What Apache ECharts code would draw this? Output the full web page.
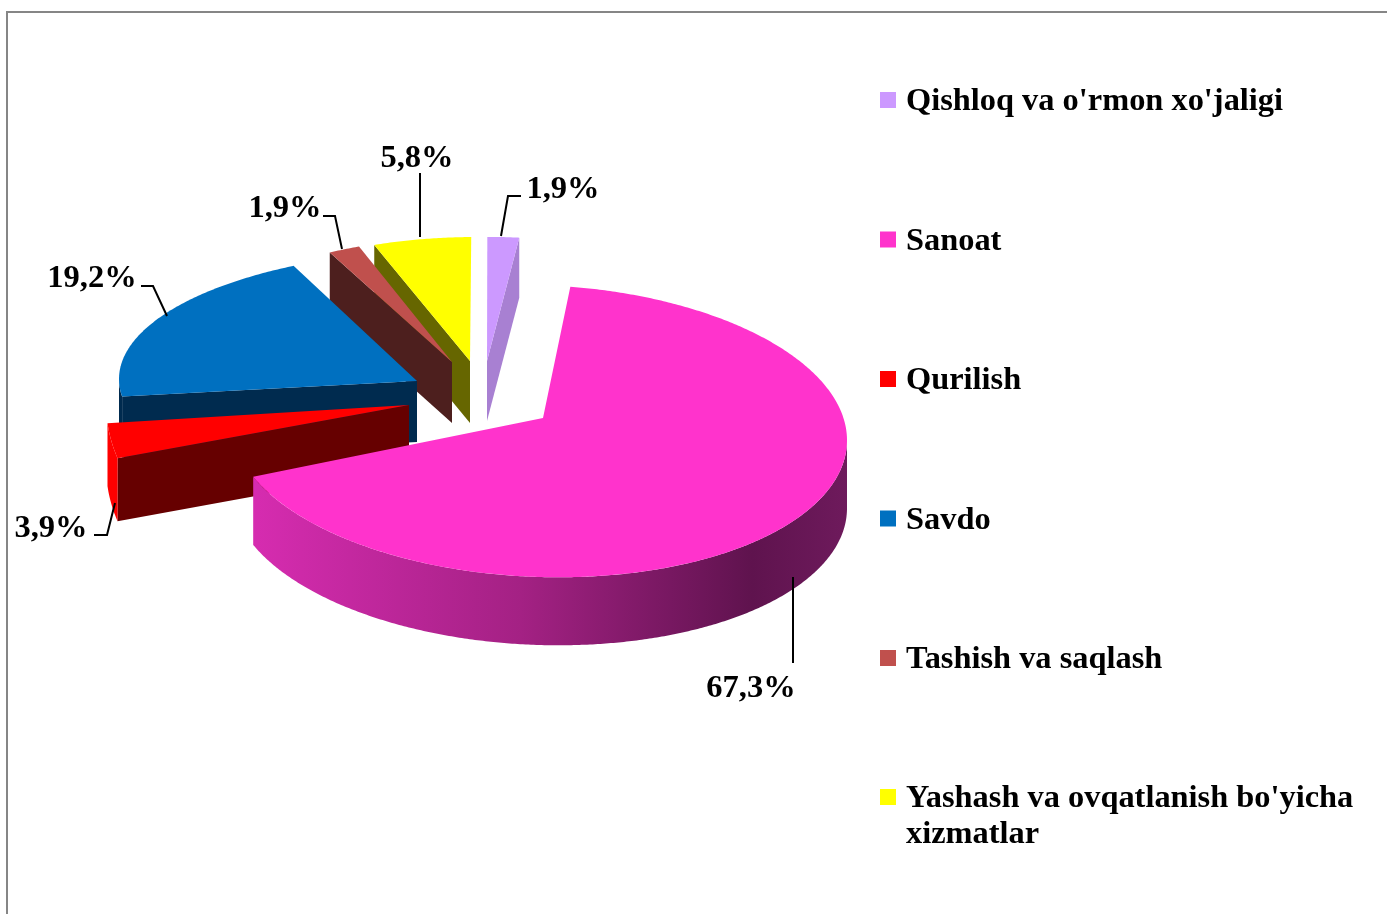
<!DOCTYPE html>
<html><head><meta charset="utf-8">
<style>html,body{margin:0;padding:0;background:#fff}#c{width:1387px;height:914px}</style>
<script src="https://cdn.jsdelivr.net/npm/echarts@6/dist/echarts.min.js"></script>
</head><body><div id="c"></div>
<script>
// ---- data ----
var categories = ["Qishloq va o'rmon xo'jaligi", "Sanoat", "Qurilish", "Savdo", "Tashish va saqlash", "Yashash va ovqatlanish bo'yicha\nxizmatlar"];
var shares = [1.9, 67.3, 3.9, 19.2, 1.9, 5.8];
// ---- styles ----
var topColors  = ['#CC99FF', '#FF33CC', '#FF0000', '#0070C0', '#C0504D', '#FFFF00'];
var wallColors = ['#A880D2', '#A02080', '#660000', '#002B4F', '#4D1F1E', '#666600'];
var rimColors  = ['#A880D2', null, '#FF0000', '#002B4F', '#4D1F1E', '#666600'];
var pinkWall = {type:'linear', x:0, y:0, x2:1, y2:0, colorStops:[
  {offset:0, color:'#D62CB0'}, {offset:0.45, color:'#A42184'}, {offset:0.84, color:'#5F134E'}, {offset:1, color:'#6E1A5C'}]};
// exploded-slice layout: apex, ellipse centre and radii, wall depth, shear
var layout = [
  {ax:487, ay:361, cx:492, cy:367, rx:268, ry:130, d:60},
  {ax:543, ay:418, cx:539, cy:431, rx:308, ry:146, d:68, sk:0.03},
  {ax:409, ay:405, cx:266, cy:403, rx:160, ry:148, d:63},
  {ax:417, ay:381, cx:455, cy:379, rx:336, ry:129, d:61},
  {ax:452, ay:362, cx:460, cy:356, rx:271, ry:118, d:61},
  {ax:470, ay:361, cx:476, cy:347, rx:273, ry:110, d:62}
];
// label centre and leader path
var labelPos = [[563,190],[751,689],[51,529],[92,279],[285,209],[417,159]];
var leaders = [
  [[501,236],[508,196],[521,196]],
  [[793,577],[793,663]],
  [[115,503],[107,535],[94,535]],
  [[167,316],[153,286],[141,286]],
  [[342,249],[335,216],[323,216]],
  [[420,237],[420,173]]
];
var startAngle = -1;
var drawOrder = [5, 4, 0, 3, 2, 1];
var total = shares.reduce(function(a,b){return a+b;}, 0);

function rimPoint(L, deg){
  var r = deg*Math.PI/180, dx = L.rx*Math.sin(r);
  return [L.cx+dx, L.cy-L.ry*Math.cos(r)+(L.sk||0)*dx];
}
function edgeVisible(L, deg, inner){
  var R = rimPoint(L,deg), P = rimPoint(L,inner), dx = R[0]-L.ax;
  if (Math.abs(dx) < 3) return false;
  return P[1] < L.ay + (R[1]-L.ay)/dx*(P[0]-L.ax);
}
function makeRender(idx){
  return function(params, api){
    var value = api.value(0), L = layout[idx], before = 0, i;
    for (i=0;i<idx;i++) before += shares[i];
    var a0 = startAngle + before/total*360, a1 = a0 + value/total*360;
    var step = 0.5, kids = [], pts = [[L.ax,L.ay]], t;
    for (t=a0; t<a1; t+=step) pts.push(rimPoint(L,t));
    pts.push(rimPoint(L,a1));
    // radial walls
    var guard = Math.min(3,(a1-a0)/2);
    [[a0,a0+guard],[a1,a1-guard]].forEach(function(e){
      if(edgeVisible(L,e[0],e[1])){
        var R = rimPoint(L,e[0]);
        kids.push({type:'polygon', shape:{points:[[L.ax,L.ay],R,[R[0],R[1]+L.d],[L.ax,L.ay+L.d]]},
          style:{fill:wallColors[idx]}});
      }
    });
    // outer wall (front half of the rim only)
    var w0 = Math.max(a0,90), w1 = Math.min(a1,270);
    if (w1 > w0){
      var up = [], down = [];
      for (t=w0; t<w1; t+=step) up.push(rimPoint(L,t));
      up.push(rimPoint(L,w1));
      up.forEach(function(p){ down.unshift([p[0],p[1]+L.d]); });
      kids.push({type:'polygon', shape:{points:up.concat(down)},
        style:{fill: rimColors[idx] || pinkWall}});
    }
    kids.push({type:'polygon', shape:{points:pts}, style:{fill:topColors[idx]}});
    kids.push({type:'polyline', shape:{points:leaders[idx]}, style:{fill:null, stroke:'#000', lineWidth:2}});
    kids.push({type:'text', style:{
      text: value.toFixed(1).replace('.',',')+'%',
      x: labelPos[idx][0], y: labelPos[idx][1], align:'center', verticalAlign:'middle',
      font:'bold 32.5px "Liberation Serif"', fill:'#000'}});
    return {type:'group', children:kids};
  };
}
var series = drawOrder.map(function(i){
  return {type:'custom', name:categories[i], coordinateSystem:'none', silent:true,
    itemStyle:{color:topColors[i]}, data:[[shares[i]]], renderItem:makeRender(i), animation:false};
});
var legendText = {fontFamily:'Liberation Serif', fontWeight:'bold', fontSize:32.4, color:'#000', lineHeight:36, padding:[0,0,0,5],
  rich:{
    s:{fontSize:1, lineHeight:36, width:0},
    a:{fontFamily:'Liberation Serif', fontWeight:'bold', fontSize:32.4, color:'#000', lineHeight:30, verticalAlign:'bottom'}
  }};
function richLines(n){
  return n.split('\n').map(function(l){ return '{s| }' + (l ? '{a|'+l+'}' : ''); }).join('\n');
}
var chart = echarts.init(document.getElementById('c'), null, {renderer:'canvas'});
chart.setOption({
  backgroundColor:'#fff', animation:false,
  graphic:[{type:'rect', z:-10, silent:true, shape:{x:7,y:12,width:1500,height:1100}, style:{fill:'#fff', stroke:'#868686', lineWidth:2}}],
  legend:[
    {orient:'vertical', left:880, top:82, padding:0, itemWidth:16, itemHeight:16, itemGap:103.5, icon:'rect', selectedMode:false,
     data:categories.slice(0,5), formatter:richLines, textStyle:legendText},
    {orient:'vertical', left:880, top:743, padding:0, itemWidth:16, itemHeight:16, icon:'rect', selectedMode:false,
     data:categories.slice(5), formatter:function(n){return richLines('\n'+n);}, textStyle:legendText}
  ],
  series:series
});
</script></body></html>
